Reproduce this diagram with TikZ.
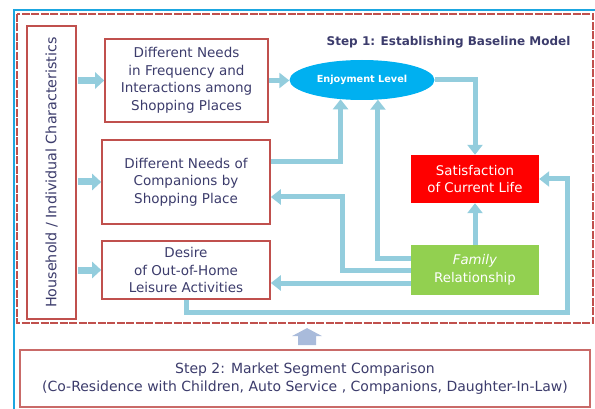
\documentclass[tikz,border=0pt]{standalone}
\usepackage{fontspec}
\setmainfont{DejaVu Sans}
\usetikzlibrary{arrows.meta,calc,shapes.geometric}
\definecolor{txt}{HTML}{3C3C6C}
\definecolor{bred}{HTML}{C0504D}
\definecolor{flowc}{HTML}{93CDDD}
\definecolor{skyb}{HTML}{00B0F0}
\definecolor{frameb}{HTML}{1BA6E0}
\definecolor{grn}{HTML}{92D050}
\definecolor{upc}{HTML}{A9BBDB}
\begin{document}
\begin{tikzpicture}[x=1pt,y=-1pt,
 box/.style={draw=bred,line width=1.6pt,fill=white,inner sep=0pt,align=center,text=txt,font=\fontsize{13.5}{17.5}\selectfont},
 fillbox/.style={inner sep=0pt,align=center,text=white,font=\fontsize{13.3}{17.5}\selectfont},
 flow/.style={draw=flowc,line width=5pt,-{Triangle[width=15pt,length=10pt]}},
 stub/.style={draw=flowc,line width=7pt,-{Triangle[width=16pt,length=9pt]},shorten <=1.5pt}]
\useasboundingbox (0,0) rectangle (595,409);
% outer blue frame
\draw[frameb,line width=2.5pt] (14,420) -- (14,10) -- (600,10);
% red dashed frame
\draw[bred,line width=1.5pt,dash pattern=on 8pt off 1.5pt] (17,14) rectangle (593,323);
% nodes
\node[box,minimum width=49pt,minimum height=293pt] (hh) at (51.5,172.5) {};
\node[rotate=90,text=txt,font=\fontsize{14.3}{17.5}\selectfont] (hhtext) at (hh.center) {Household / Individual Characteristics};
\node[box,minimum width=163pt,minimum height=83pt] (b1) at (186.5,80.5) {Different Needs\\in Frequency and\\Interactions among\\Shopping Places};
\node[box,minimum width=168pt,minimum height=84pt] (b2) at (186,182) {Different Needs of\\Companions by\\Shopping Place};
\node[box,minimum width=168pt,minimum height=58pt] (b3) at (186,270) {Desire\\of Out-of-Home\\Leisure Activities};
\node[ellipse,fill=skyb,minimum width=145pt,minimum height=40pt,inner sep=0pt,text=white,font=\bfseries\fontsize{9.7}{11}\selectfont] (el) at (362,80) {Enjoyment Level};
\node[fillbox,fill=red,minimum width=128pt,minimum height=48pt] (sat) at (475,179) {Satisfaction\\of Current Life};
\node[fillbox,fill=grn,minimum width=128pt,minimum height=50pt] (fam) at (475,270) {\textit{Family}\\Relationship};
\node[anchor=east,text=txt,font=\bfseries\fontsize{12}{14}\selectfont] (s1) at (574,42) {Step 1: Establishing Baseline Model};
\node[box,minimum width=570pt,minimum height=57pt,line width=1.8pt,draw=bred!85,font=\fontsize{14}{17.5}\selectfont] (s2) at (305,378.5) {Step 2: Market Segment Comparison\\(Co-Residence with Children, Auto Service , Companions, Daughter-In-Law)};
% stub arrows from household box
\draw[stub] (hh.east |- b1.west) -- (b1.west);
\draw[stub] (hh.east |- b2.west) -- (b2.west);
\draw[stub] (hh.east |- b3.west) -- (b3.west);
% flows
\draw[flow] (b1.east) -- (b1.east -| el.west);
\draw[flow] (el.east) -| (sat.north);
\draw[flow] ($(b2.east)+(0,-20)$) -| (el.-138);
\draw[flow] ($(fam.west)+(0,-12)$) -| (el.-51);
\draw[flow] (fam.west) -| ($(b2.east)+(72,15)$) -- ($(b2.east)+(0,15)$);
\draw[flow] ($(fam.west)+(0,13)$) -- ($(b3.east)+(0,13)$);
\draw[flow] (b3.south) -- ++(0,13) -| ($(sat.east)+(28,0)$) -- (sat.east);
\draw[flow] (fam.north) -- (sat.south);
% step 2 up arrow
\coordinate (ua) at ($(s2.north)+(2,-4)$);
\fill[upc] (ua) ++(-9,0) -- ++(0,-9) -- ++(-6,0) -- ++(15,-8) -- ++(15,8) -- ++(-6,0) -- ++(0,9) -- cycle;
\end{tikzpicture}
\end{document}
